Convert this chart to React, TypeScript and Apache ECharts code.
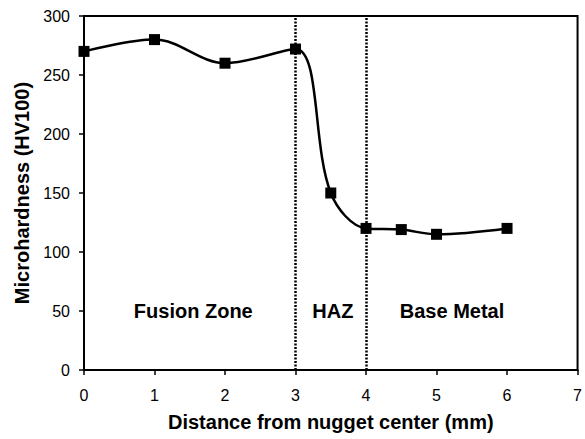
import React, { useEffect, useRef } from "react";
import * as echarts from "echarts";

const distances = [0, 1, 2, 3, 3.5, 4, 4.5, 5, 6];
const hardness = [270, 280, 260, 272, 150, 120, 119, 115, 120];
const zoneBoundaries = [3, 4];
const zoneLabels = ["Fusion Zone", "HAZ", "Base Metal"];
const zoneLabelX = [1.55, 3.53, 5.22];
const zoneLabelY = [50, 50, 50];
const xTicks = [0, 1, 2, 3, 4, 5, 6, 7];
const yTicks = [0, 50, 100, 150, 200, 250, 300];

export default function App() {
  const ref = useRef<HTMLDivElement>(null);
  useEffect(() => {
    if (!ref.current) return;
    const chart = echarts.init(ref.current, null, { renderer: "svg" });
    const font = "Liberation Sans, Arial, sans-serif";
    chart.setOption({
      animation: false,
      backgroundColor: "#fff",
      grid: {
        left: 84,
        right: 2,
        top: 16,
        bottom: 69,
        show: true,
        borderColor: "#000",
        borderWidth: 2,
        backgroundColor: "transparent",
      },
      xAxis: {
        type: "value",
        min: xTicks[0],
        max: xTicks[xTicks.length - 1],
        interval: 1,
        name: "Distance from nugget center (mm)",
        nameLocation: "middle",
        nameGap: 42,
        nameTextStyle: { fontFamily: font, fontSize: 20, fontWeight: "bold", color: "#000" },
        axisLine: { show: true, lineStyle: { color: "#000", width: 2 } },
        axisTick: { show: true, inside: false, length: 5, lineStyle: { color: "#000", width: 1.5 } },
        axisLabel: { fontFamily: font, fontSize: 16, color: "#000", margin: 17 },
        splitLine: { show: false },
      },
      yAxis: {
        type: "value",
        min: yTicks[0],
        max: yTicks[yTicks.length - 1],
        interval: 50,
        name: "Microhardness (HV100)",
        nameLocation: "middle",
        nameGap: 52,
        nameTextStyle: { fontFamily: font, fontSize: 20, fontWeight: "bold", color: "#000" },
        axisLine: { show: true, lineStyle: { color: "#000", width: 2 } },
        axisTick: { show: true, inside: false, length: 5, lineStyle: { color: "#000", width: 1.5 } },
        axisLabel: { fontFamily: font, fontSize: 16, color: "#000", margin: 14 },
        splitLine: { show: false },
      },
      series: [
        {
          type: "line",
          data: distances.map((d, i) => [d, hardness[i]]),
          smooth: 0.35,
          symbol: "rect",
          symbolSize: 11,
          itemStyle: { color: "#000" },
          lineStyle: { color: "#000", width: 2.5 },
          markLine: {
            silent: true,
            symbol: "none",
            label: { show: false },
            lineStyle: { color: "#000", type: [2, 1.5], width: 2.5, opacity: 1 },
            emphasis: { disabled: true },
            data: zoneBoundaries.map((b) => ({ xAxis: b })),
          },
          z: 3,
        },
        {
          type: "scatter",
          symbolSize: 0,
          silent: true,
          itemStyle: { opacity: 1, color: "#000" },
          data: zoneLabels.map((n, i) => ({ name: n, value: [zoneLabelX[i], zoneLabelY[i]] })),
          label: {
            show: true,
            position: "inside",
            formatter: (p: any) => p.name,
            fontFamily: font,
            fontSize: 20,
            fontWeight: "bold",
            color: "#000",
            opacity: 1,
          },
        },
      ],
    });
    return () => chart.dispose();
  }, []);
  return (
    <div
      ref={ref}
      style={{ position: "absolute", left: 0, top: 0, width: 585, height: 439 }}
    />
  );
}
